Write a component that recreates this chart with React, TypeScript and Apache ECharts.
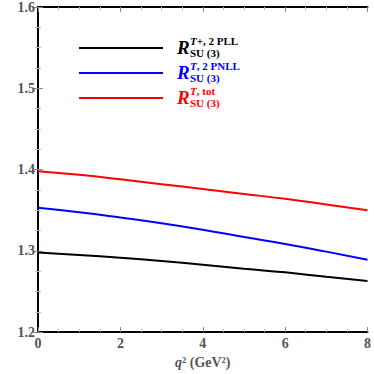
import React, { useEffect, useRef } from "react";
import * as echarts from "echarts";

const xValues = [0, 1, 2, 3, 4, 5, 6, 7, 8];
const blackPLL = [1.298, 1.295, 1.2915, 1.2875, 1.283, 1.278, 1.2735, 1.268, 1.263];
const bluePNLL = [1.353, 1.3475, 1.341, 1.334, 1.326, 1.317, 1.3085, 1.299, 1.289];
const redTot = [1.398, 1.3935, 1.388, 1.382, 1.376, 1.37, 1.364, 1.357, 1.35];

const legendRows = [
  { sup: "+, 2 PLL", color: "#000000" },
  { sup: ", 2 PNLL", color: "#0000ff" },
  { sup: ", tot", color: "#ff0000" },
];

const FONT = "'Liberation Serif', 'Times New Roman', serif";

export default function App() {
  const ref = useRef<HTMLDivElement>(null);
  useEffect(() => {
    if (!ref.current) return;
    const chart = echarts.init(ref.current, null, { renderer: "svg" });
    const toPairs = (arr: number[]) => arr.map((v, i) => [xValues[i], v]);
    const axisCommon = {
      axisLine: { show: true, lineStyle: { color: "#000", width: 2 } },
      axisTick: { show: true, inside: true, length: 5, lineStyle: { color: "#888", width: 1 } },
      minorTick: { show: true, length: 3, splitNumber: 4, lineStyle: { color: "#bbb" } },
      splitLine: { show: false },
    };
    const legendGraphics: any[] = [];
    const rowY = [48, 73, 98];
    legendRows.forEach((r, i) => {
      const y = rowY[i];
      legendGraphics.push({
        type: "line",
        shape: { x1: 79, y1: y, x2: 163, y2: y },
        style: { stroke: r.color, lineWidth: 2 },
      });
      legendGraphics.push({
        type: "text",
        x: 177,
        y: y - 1,
        style: {
          text: "R",
          fill: r.color,
          font: `italic bold 19px ${FONT}`,
          verticalAlign: "middle",
        },
      });
      legendGraphics.push({
        type: "text",
        x: 190,
        y: y - 7,
        style: {
          text: "{i|T}{n|" + r.sup + "}",
          fill: r.color,
          verticalAlign: "middle",
          rich: {
            i: { font: `italic bold 11px ${FONT}`, fill: r.color },
            n: { font: `bold 11px ${FONT}`, fill: r.color },
          },
        },
      });
      legendGraphics.push({
        type: "text",
        x: 190,
        y: y + 5,
        style: {
          text: "SU (3)",
          fill: r.color,
          font: `bold 11px ${FONT}`,
          verticalAlign: "middle",
        },
      });
    });

    chart.setOption({
      animation: false,
      backgroundColor: "#fff",
      grid: { left: 38, right: 5, top: 7, bottom: 37, containLabel: false },
      xAxis: [
        {
          type: "value",
          min: 0,
          max: 8,
          interval: 2,
          ...axisCommon,
          axisLabel: { color: "#555", fontFamily: FONT, fontWeight: "bold", fontSize: 14, margin: 4 },
          name: "{q|q}{n|² (GeV²)}",
          nameLocation: "middle",
          nameGap: 20,
          nameTextStyle: {
            rich: {
              q: { fontFamily: FONT, fontStyle: "italic", fontWeight: "bold", fontSize: 14, color: "#555" },
              n: { fontFamily: FONT, fontWeight: "bold", fontSize: 14, color: "#555" },
            },
          },
        },
        {
          type: "value",
          position: "top",
          min: 0,
          max: 8,
          interval: 2,
          ...axisCommon,
          axisLabel: { show: false },
        },
      ],
      yAxis: [
        {
          type: "value",
          min: 1.2,
          max: 1.6,
          interval: 0.1,
          ...axisCommon,
          axisLabel: {
            color: "#555",
            fontFamily: FONT,
            fontWeight: "bold",
            fontSize: 14,
            margin: 3,
            formatter: (v: number) => v.toFixed(1),
          },
        },
        {
          type: "value",
          position: "right",
          min: 1.2,
          max: 1.6,
          interval: 0.1,
          ...axisCommon,
          axisLabel: { show: false },
        },
      ],
      series: [
        { type: "line", data: toPairs(blackPLL), smooth: true, showSymbol: false, lineStyle: { color: "#000", width: 2 } },
        { type: "line", data: toPairs(bluePNLL), smooth: true, showSymbol: false, lineStyle: { color: "#0000ff", width: 2 } },
        { type: "line", data: toPairs(redTot), smooth: true, showSymbol: false, lineStyle: { color: "#ff0000", width: 2 } },
      ],
      graphic: legendGraphics,
    });
    return () => chart.dispose();
  }, []);
  return <div ref={ref} style={{ width: 374, height: 374, position: "fixed", left: 0, top: 0 }} />;
}
